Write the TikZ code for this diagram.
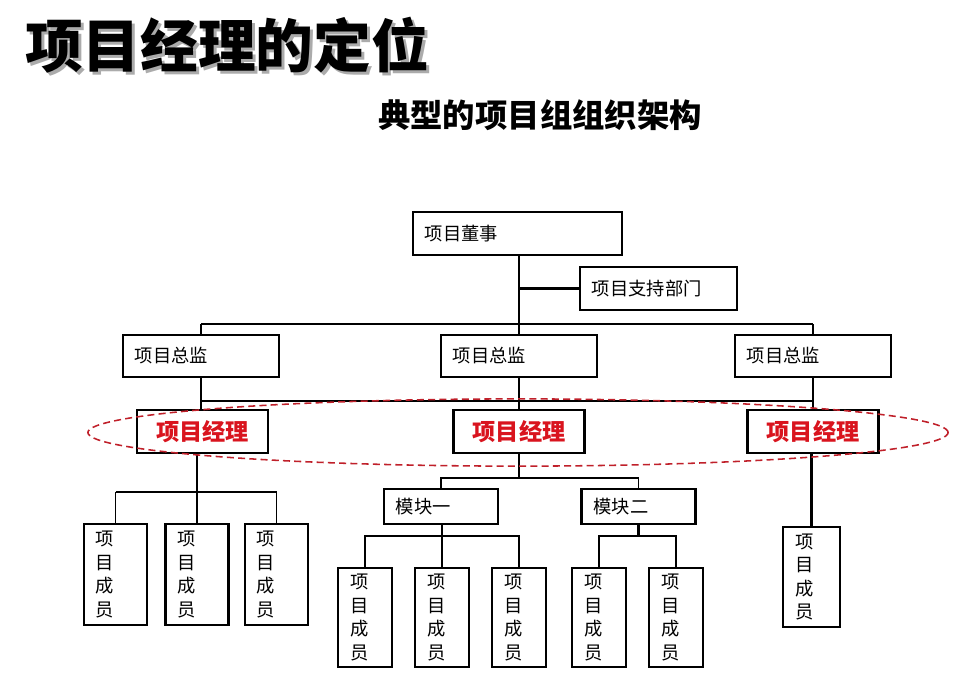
\documentclass[tikz,border=0pt]{standalone}
\usepackage{fontspec}
\setmainfont{Noto Sans CJK SC}
\usepackage{xcolor}
\usepackage{tikz}
\usetikzlibrary{positioning, calc}
\definecolor{leaderred}{HTML}{D9141E}
\definecolor{ringred}{HTML}{C0202A}
\definecolor{shadowgray}{HTML}{ABABAB}

\begin{document}
\begin{tikzpicture}[
    x=0.025cm, y=-0.025cm,
    every node/.style={font=\fontsize{13pt}{16pt}\selectfont},
    box/.style={rectangle, draw=black, line width=1.6pt, fill=white,
                text width=#1, inner xsep=0.3cm, align=left},
    member/.style={box=#1, font=\fontsize{13pt}{16.8pt}\selectfont},
    leader/.style={rectangle, draw=black, line width=1.6pt, fill=white,
                   minimum width=3.275cm, minimum height=1.075cm,
                   text=leaderred, font=\fontsize{16.5pt}{18pt}\selectfont\bfseries},
    link/.style={line width=0.8pt},
    bus/.style={line width=1.5pt},
    ring/.style={draw=ringred, line width=1.1pt, dash pattern=on 5pt off 3pt},
    heading/.style={font=\fontsize{41pt}{44pt}\selectfont\bfseries},
    subheading/.style={font=\fontsize{23pt}{26pt}\selectfont\bfseries}
]
\useasboundingbox[fill=white] (0,0) rectangle (980,693);

% titles
\node[heading, text=shadowgray] (titleshadow) at (230,48) {项目经理的定位};
\node[heading] (title) at (227,45) {项目经理的定位};
\node[subheading] (subtitle) at (540,115) {典型的项目组组织架构};

% bus rows
\coordinate (busA) at (0,324);
\coordinate (busB) at (0,401);
\coordinate (busC) at (0,492);
\coordinate (busD) at (0,478);
\coordinate (busE) at (0,536);

% top
\node[box=4.625cm, minimum height=1.075cm] (dong) at (517.5,233.5) {项目董事};
\node[box=3.325cm, minimum height=1.075cm] (zhichi) at (658.5,288.5) {项目支持部门};

% directors
\node[box=3.3cm, minimum height=1.05cm] (zj1) at (201,356) {项目总监};
\node[box=3.3cm, minimum height=1.05cm] (zj2) at (519,356) {项目总监};
\node[box=3.3cm, minimum height=1.05cm] (zj3) at (813,356) {项目总监};

% project managers
\node[leader] (jl1) at (202.5,431.5) {项目经理};
\node[leader] (jl2) at (519,431.5) {项目经理};
\node[leader] (jl3) at (813,431.5) {项目经理};

% modules
\node[box=2.25cm, minimum height=0.875cm] (mk1) at (441,506.5) {模块一};
\node[box=2.25cm, minimum height=0.875cm] (mk2) at (638.5,506.5) {模块二};

% members
\node[member=0.975cm, minimum height=2.525cm] (ma1) at (115.5,574.5) {项\\目\\成\\员};
\node[member=0.975cm, minimum height=2.525cm] (ma2) at (197,574.5) {项\\目\\成\\员};
\node[member=0.975cm, minimum height=2.525cm] (ma3) at (276.5,574.5) {项\\目\\成\\员};
\node[member=0.75cm, minimum height=2.475cm] (mb1) at (365,617.5) {项\\目\\成\\员};
\node[member=0.75cm, minimum height=2.475cm] (mb2) at (442,617.5) {项\\目\\成\\员};
\node[member=0.75cm, minimum height=2.475cm] (mb3) at (519,617.5) {项\\目\\成\\员};
\node[member=0.75cm, minimum height=2.475cm] (mb4) at (599,617.5) {项\\目\\成\\员};
\node[member=0.75cm, minimum height=2.475cm] (mb5) at (676,617.5) {项\\目\\成\\员};
\node[member=0.825cm, minimum height=2.5cm] (mr) at (811.5,577) {项\\目\\成\\员};

% connectors
\draw[link] (zj2.north |- dong.south) -- (zj2.north);
\draw[bus] (zj2.north |- zhichi.west) -- (zhichi.west);
\draw[bus] (zj1.north |- busA) -- (zj3.north |- busA);
\draw[link] (zj1.north |- busA) -- (zj1.north);
\draw[link] (zj3.north |- busA) -- (zj3.north);

\draw[link] (zj1.south) -- (jl1.north -| zj1.south);
\draw[link] (zj2.south) -- (jl2.north);
\draw[bus] (zj3.south) -- (jl3.north);
\draw[bus] (zj1.south |- busB) -- (zj3.south |- busB);

\draw[link] (ma2.north |- jl1.south) -- (ma2.north);
\draw[bus] (ma1.north |- busC) -- (ma3.north |- busC);
\draw[link] (ma1.north |- busC) -- (ma1.north);
\draw[link] (ma3.north |- busC) -- (ma3.north);

\draw[bus] (jl2.south) -- (jl2.south |- busD);
\draw[link] (mk1.north) |- (jl2.south |- busD) -| (mk2.north);

\draw[bus] (mb2.north |- mk1.south) -- (mb2.north);
\draw[bus] (mb1.north) |- (mb2.north |- busE) -| (mb3.north);
\draw[bus] (mk2.south) -- (mk2.south |- busE);
\draw[bus] (mb4.north) |- (mk2.south |- busE) -| (mb5.north);

\draw[bus] (mr.north |- jl3.south) -- (mr.north);

% focus ring round the managers
\draw[ring] (518,432.5) ellipse [x radius=10.75cm, y radius=0.84cm];

\end{tikzpicture}
\end{document}
